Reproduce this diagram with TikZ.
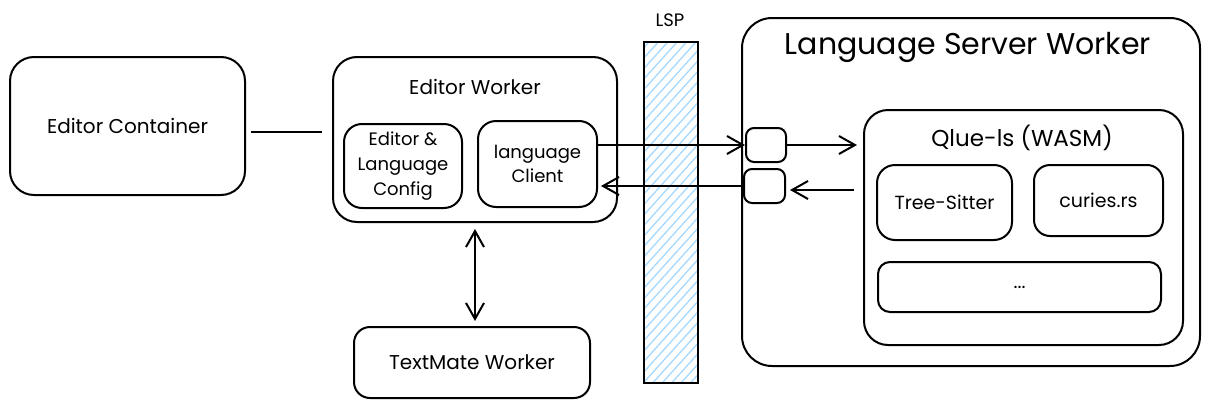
\documentclass[tikz,border=0pt]{standalone}
\usepackage{fontspec}
\setmainfont{Poppins}
\usetikzlibrary{arrows.meta,patterns.meta}
\definecolor{hatchblue}{HTML}{A5D8FF}
\begin{document}
\begin{tikzpicture}[x=1pt,y=-1pt,
  box/.style={draw=black,line width=2pt,rounded corners=#1,inner sep=0pt,align=center,
    font=\fontsize{19}{25}\selectfont},
  lbl/.style={inner sep=0pt,align=center,font=\fontsize{20}{25}\selectfont},
  bigl/.style={inner sep=0pt,font=\fontsize{30}{34}\selectfont},
  conn/.style={draw=black,line width=2pt},
  arr/.style={conn,-{Straight Barb[length=16pt,width=18pt,line width=2pt]}},
  darr/.style={conn,{Straight Barb[length=16pt,width=18pt,line width=2pt]}-{Straight Barb[length=16pt,width=18pt,line width=2pt]}}
]
\useasboundingbox (0,0) rectangle (1210,407);

% LSP bar (behind connectors)
\node[draw=black,line width=2pt,inner sep=0pt,minimum width=54pt,minimum height=341pt,
  pattern={Lines[angle=48,distance=7pt,line width=1.3pt]},pattern color=hatchblue] (lsp) at (671,212.5) {};
\node[lbl,font=\fontsize{18}{20}\selectfont] (lspl) at (670,20) {LSP};

% left side
\node[box=24pt,minimum width=235pt,minimum height=138pt,font=\fontsize{20}{25}\selectfont] (ec) at (127.5,126) {Editor Container};
\node[box=24pt,minimum width=284pt,minimum height=165pt] (ew) at (475,139.5) {};
\node[lbl] (ewt) at (475,87) {Editor Worker};
\node[box=18pt,minimum width=118pt,minimum height=84pt,font=\fontsize{18}{25}\selectfont] (cfg) at (403,166) {Editor \&\\Language\\Config};
\node[box=18pt,minimum width=119pt,minimum height=86pt,font=\fontsize{18}{24}\selectfont] (cl) at (537.5,164) {language\\Client};
\node[box=16pt,minimum width=236pt,minimum height=71pt,font=\fontsize{20}{25}\selectfont] (tm) at (472,362.5) {TextMate Worker};

% right side
\node[box=30pt,minimum width=458pt,minimum height=348pt] (lsw) at (971,192) {};
\node[bigl] (lswt) at (968,47) {Language Server Worker};
\node[box=8pt,minimum width=40pt,minimum height=34pt] (b1) at (766,145) {};
\node[box=8pt,minimum width=41pt,minimum height=34pt] (b2) at (764.5,186) {};
\node[box=24pt,minimum width=319pt,minimum height=235pt] (ql) at (1023.5,227.5) {};
\node[lbl,font=\fontsize{23}{26}\selectfont] (qlt) at (1022,138) {Qlue-ls (WASM)};
\node[box=18pt,minimum width=135pt,minimum height=75pt] (ts) at (944.5,202.5) {Tree-Sitter};
\node[box=16pt,minimum width=129pt,minimum height=71pt] (cr) at (1098.5,200.5) {curies.rs};
\node[box=12pt,minimum width=283pt,minimum height=50pt] (dots) at (1019.5,287) {...};

% connectors
\draw[conn,shorten <=5pt,shorten >=10pt] ([yshift=-6pt]ec.east) -- ([yshift=-6pt]ec.east -| ew.west);
\draw[arr] (cl.east |- b1.west) -- (b1.west);
\draw[arr,shorten >=3pt] (b2.west) -- (b2.west -| cl.east);
\draw[arr,shorten >=6pt] (b1.east) -- (b1.east -| ql.west);
\draw[arr,shorten <=9pt,shorten >=4pt] ([yshift=-4pt]b2.east -| ql.west) -- ([yshift=-4pt]b2.east);
\draw[darr,shorten <=6pt,shorten >=5pt] (ew.south) -- (ew.south |- tm.north);
\end{tikzpicture}
\end{document}
